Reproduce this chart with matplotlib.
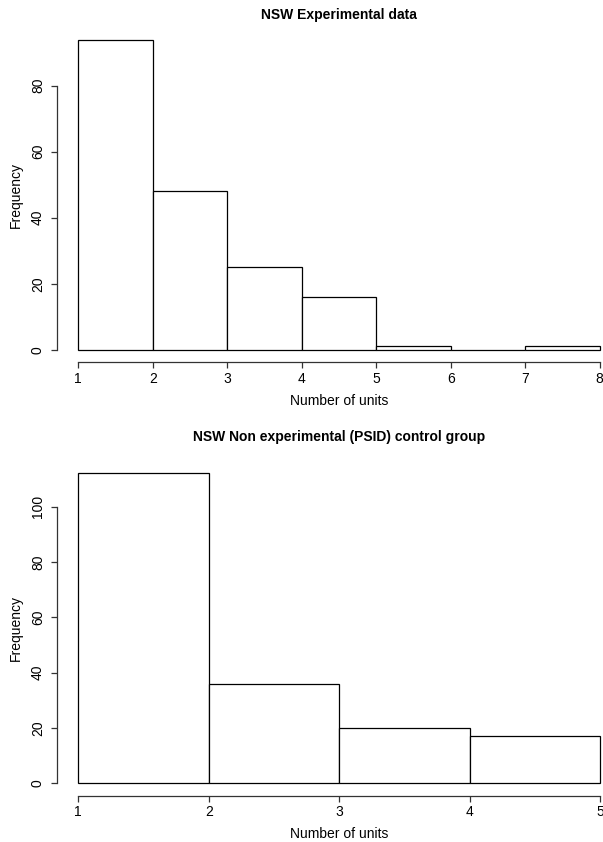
import matplotlib
matplotlib.use("Agg")
import matplotlib.pyplot as plt

# histogram data (bins of width 1)
exp_edges = [1, 2, 3, 4, 5, 6, 7, 8]
exp_counts = [94, 48, 25, 16, 1, 0, 1]
exp_yticks = [0, 20, 40, 60, 80]

psid_edges = [1, 2, 3, 4, 5]
psid_counts = [112, 36, 20, 17]
psid_yticks = [0, 20, 40, 60, 80, 100]

titles = ["NSW Experimental data", "NSW Non experimental (PSID) control group"]
xlabel = "Number of units"
ylabel = "Frequency"

plt.rcParams['font.family'] = ['Liberation Sans', 'DejaVu Sans']
plt.rcParams['font.size'] = 10

W, H = 603, 842
fig = plt.figure(figsize=(W / 100, H / 100), dpi=100)


def px_axes(left, top, right, bottom):
    # figure-pixel box (top-left origin) -> axes
    return fig.add_axes([left / W, 1 - bottom / H, (right - left) / W, (bottom - top) / H])


def r_hist(ax, edges, counts, yticks, title, title_y, px):
    lefts = edges[:-1]
    ax.bar(lefts, counts, width=1, align='edge', facecolor='white',
           edgecolor='black', linewidth=0.9)
    xr = edges[-1] - edges[0]
    ax.set_xlim(edges[0] - 0.04 * xr, edges[-1] + 0.04 * xr)
    ymax = max(counts)
    ax.set_ylim(-0.04 * ymax, ymax * 1.04)
    ax.set_xticks(edges)
    ax.set_yticks(yticks)
    ax.set_yticklabels([str(v) for v in yticks], rotation=90, va='center')
    for s in ['top', 'right']:
        ax.spines[s].set_visible(False)
    ax.spines['bottom'].set_bounds(edges[0], edges[-1])
    ax.spines['left'].set_bounds(yticks[0], yticks[-1])
    for s in ['bottom', 'left']:
        ax.spines[s].set_linewidth(0.9)
        ax.spines[s].set_color('#333333')
    ax.tick_params(axis='both', length=4, width=0.9, color='#333333', labelsize=10)
    ax.tick_params(axis='x', pad=3)
    ax.tick_params(axis='y', pad=5)
    left, top, right, bottom = px
    cx = (left + right) / 2 / W
    fig.text(cx, 1 - title_y / H, title, ha='center', va='center',
             fontsize=10, fontweight='bold')
    fig.text(cx, 1 - (bottom + 38.5) / H, xlabel, ha='center', va='center', fontsize=10)
    fig.text(16 / W, 1 - (top + bottom) / 2 / H, ylabel, ha='center', va='center',
             rotation=90, fontsize=10)


top_px = (57.4, 27.1, 620.6, 362.1)
bot_px = (57.4, 461.1, 620.9, 795.7)

ax1 = px_axes(*top_px)
r_hist(ax1, exp_edges, exp_counts, exp_yticks, titles[0], 15.5, top_px)

ax2 = px_axes(*bot_px)
r_hist(ax2, psid_edges, psid_counts, psid_yticks, titles[1], 437.3, bot_px)

fig.savefig("out.png", dpi=100)
